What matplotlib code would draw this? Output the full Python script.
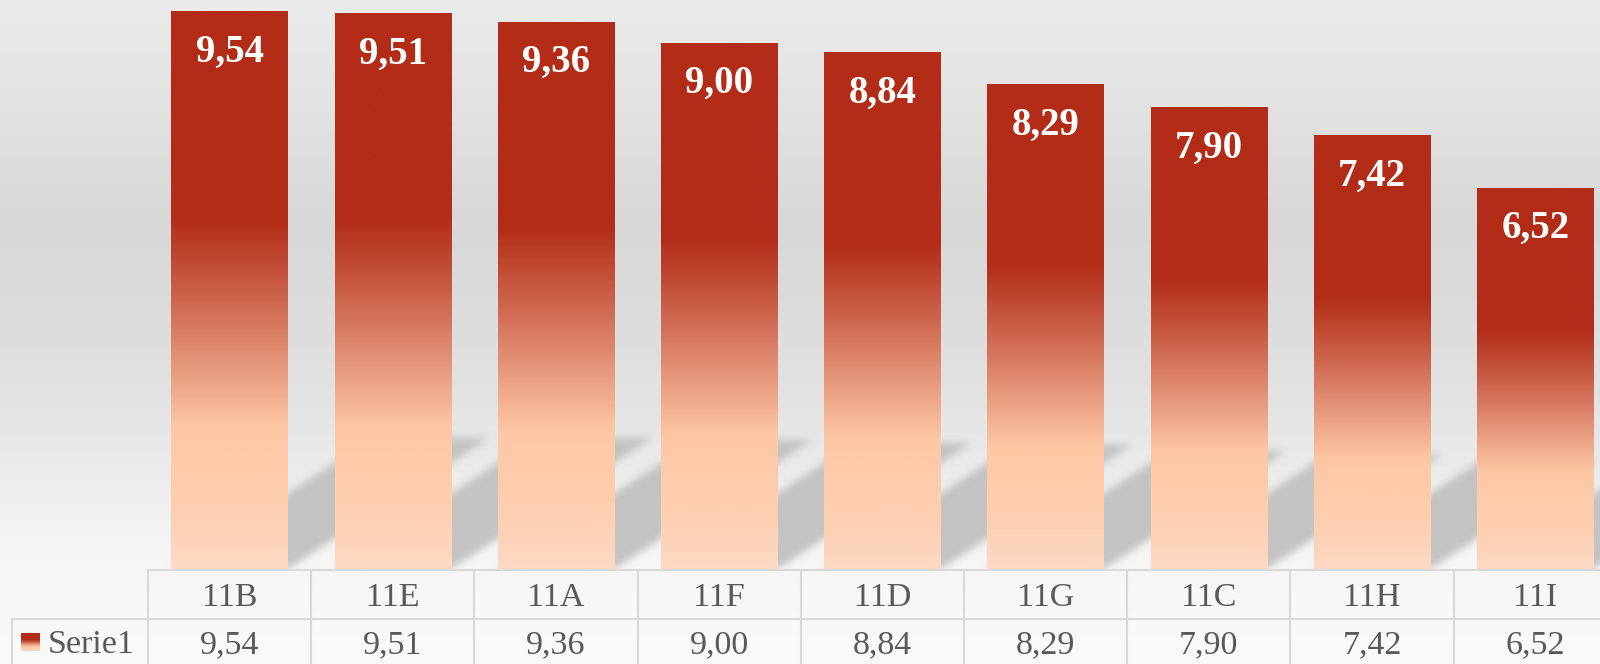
import numpy as np
import matplotlib
matplotlib.use("Agg")
import matplotlib.pyplot as plt
from matplotlib.colors import LinearSegmentedColormap
from matplotlib.transforms import blended_transform_factory
from matplotlib.lines import Line2D

# ---------------- data ----------------
categories = ["11B", "11E", "11A", "11F", "11D", "11G", "11C", "11H", "11I"]
values = [9.54, 9.51, 9.36, 9.00, 8.84, 8.29, 7.90, 7.42, 6.52]
series_name = "Serie1"


def fmt(v):
    return f"{v:.2f}".replace(".", ",")


W, H = 1600, 664
FONT = "Liberation Serif"
TXT = "#595959"
GRID = "#d9d9d9"

fig = plt.figure(figsize=(W / 100, H / 100), dpi=100)

# ---------------- background gradient ----------------
bg = fig.add_axes([0, 0, 1, 1], zorder=-10)
ypx = np.arange(H)
stops_y = [0, 100, 217, 300, 400, 467, 520, 560, 664]
stops_g = [235, 227, 216, 219, 227, 235, 242, 246, 250]
g = np.interp(ypx, stops_y, stops_g) / 255.0
bgimg = np.repeat(g[:, None, None], 3, axis=2)
bg.imshow(bgimg, extent=(0, 1, 0, 1), aspect="auto", interpolation="bilinear")
bg.set_axis_off()

# ---------------- main axes ----------------
px_per_cat = 163.2
px_per_unit = 58.42
base_px = 569.5
ax = fig.add_axes([148 / W, (H - base_px) / H, 9 * px_per_cat / W, base_px / H])
ax.patch.set_alpha(0)
ax.set_axis_off()
ymax = base_px / px_per_unit

bar_cmap = LinearSegmentedColormap.from_list(
    "bar",
    [(0.00, "#b22c17"), (0.37, "#b22c17"), (0.45, "#c04a33"), (0.55, "#d4735a"),
     (0.65, "#e99e7f"), (0.75, "#fec8a5"), (0.90, "#fecfb1"), (1.00, "#fdd9c4")])
grad = bar_cmap(np.linspace(0, 1, 512))[:, None, :]

x = np.arange(len(categories))
bars = ax.bar(x, values, width=0.713, color="none", edgecolor="none", zorder=2)

# shadows (perspective, blurred)
Wp, Hp = int(9 * px_per_cat), int(base_px)
xs = -0.5 + (np.arange(Wp) + 0.5) / Wp * 9
ys = ymax - (np.arange(Hp) + 0.5) / Hp * ymax
X, Y = np.meshgrid(xs, ys)
mask = np.zeros((Hp, Wp))
for rect, v in zip(bars, values):
    xl = rect.get_x()
    xr = xl + rect.get_width()
    hh = 0.55 + 0.178 * v
    dxc = hh * px_per_unit / 0.65 / px_per_cat
    shift = dxc * Y / hh
    inside = (Y >= 0) & (Y <= hh) & (X >= xl + shift) & (X <= xr + shift)
    mask = np.maximum(mask, inside.astype(float))


def box(a, r, axis):
    k = np.ones(2 * r + 1) / (2 * r + 1)
    return np.apply_along_axis(lambda m: np.convolve(m, k, mode="same"), axis, a)


for _ in range(2):
    mask = box(mask, 4, 0)
    mask = box(mask, 4, 1)
shadow = np.zeros((Hp, Wp, 4))
shadow[..., :3] = 0.765
shadow[..., 3] = mask
ax.imshow(shadow, extent=(-0.5, 8.5, 0, ymax), aspect="auto", zorder=1,
          interpolation="bilinear")

for rect, v in zip(bars, values):
    x0, w, h = rect.get_x(), rect.get_width(), rect.get_height()
    ax.imshow(grad, extent=(x0, x0 + w, 0, h), aspect="auto", zorder=3,
              interpolation="bilinear")
    ax.annotate(fmt(v), xy=(x0 + w / 2, h), xytext=(0, -49.5),
                textcoords="offset pixels", ha="center", va="baseline",
                color="white", fontweight="bold", fontsize=28, family=FONT,
                zorder=5)

ax.set_xlim(-0.5, 8.5)
ax.set_ylim(0, ymax)

# ---------------- data table ----------------
trans = blended_transform_factory(ax.transData, ax.transAxes)
for i, (c, v) in enumerate(zip(categories, values)):
    ax.annotate(c, xy=(i, 0), xycoords=trans, xytext=(0, -(606 - base_px)),
                textcoords="offset pixels", ha="center", va="baseline",
                fontsize=24.5, color=TXT, family=FONT, annotation_clip=False)
    ax.annotate(fmt(v), xy=(i, 0), xycoords=trans, xytext=(0, -(653 - base_px)),
                textcoords="offset pixels", ha="center", va="baseline",
                fontsize=24.5, color=TXT, family=FONT, annotation_clip=False)

lw = 1.5
y_top = (base_px - 570) / base_px
for k in range(len(categories) + 1):
    ax.plot([k - 0.5, k - 0.5], [y_top, -0.25], transform=trans, color=GRID,
            lw=lw, clip_on=False, solid_capstyle="butt", zorder=6)
ax.plot([-0.5, 8.5], [y_top, y_top], transform=trans, color=GRID, lw=lw,
        clip_on=False, zorder=6)
fig.add_artist(Line2D([11.7 / W, 1.0], [(H - 619) / H] * 2, transform=fig.transFigure,
                      color=GRID, lw=lw))
fig.add_artist(Line2D([11.7 / W] * 2, [(H - 619) / H, 0], transform=fig.transFigure,
                      color=GRID, lw=lw))

fig.text(48 / W, (H - 653) / H, series_name, ha="left", va="baseline",
         fontsize=24.5, color=TXT, family=FONT)

kax = fig.add_axes([21 / W, (H - 651) / H, 19 / W, 18 / H])
kax.imshow(grad, aspect="auto", interpolation="bilinear")
kax.set_axis_off()

fig.savefig("out.png", dpi=100)
